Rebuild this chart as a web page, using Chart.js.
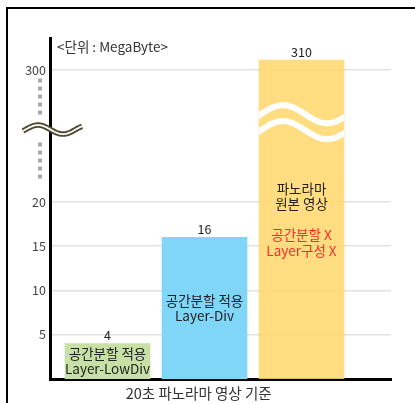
<!DOCTYPE html>
<html><head><meta charset="utf-8">
<script src="https://cdn.jsdelivr.net/npm/chart.js@4"></script>
<style>
html,body{margin:0;padding:0;background:#fff;}
#wrap{position:relative;width:415px;height:403px;overflow:hidden;background:#fff;}
#frame{position:absolute;left:6px;top:7px;width:600px;height:600px;border-top:2px solid #000;border-left:2px solid #000;}
canvas{position:absolute;left:0;top:0;}
</style></head><body>
<div id="wrap"><div id="frame"></div><canvas id="c" width="415" height="403"></canvas></div>
<script>
const categories = ['Layer-LowDiv', 'Layer-Div', '파노라마 원본 영상'];
const values = [4, 16, 310];
const barColors = ['#c6e0a5', '#80d6f6', 'rgba(255,215,106,0.85)'];
const tickValues = [5, 10, 15, 20, 300];
const unitLabel = '<단위 : MegaByte>';
const xTitle = '20초 파노라마 영상 기준';
const barNotes = [
  ['공간분할 적용', 'Layer-LowDiv'],
  ['공간분할 적용', 'Layer-Div'],
  ['파노라마', '원본 영상', '', '공간분할 X', 'Layer구성 X']
];
const noteColors = [
  ['#222', '#222'],
  ['#222', '#222'],
  ['#222', '#222', '', '#ff2a2a', '#ff2a2a']
];

// broken axis: 0..20 linear, then jump to 300+
const BREAK_LO = 20, BREAK_HI = 300, HI_AT = 34.9, HI_RATE = 0.11, Y_MAX = 38.5;
function toAxis(v) {
  if (v <= BREAK_LO) return v;
  if (v >= BREAK_HI) return HI_AT + (v - BREAK_HI) * HI_RATE;
  return BREAK_LO + (v - BREAK_LO) / (BREAK_HI - BREAK_LO) * (HI_AT - BREAK_LO);
}

const FONT = "'Noto Sans CJK KR','Noto Sans',sans-serif";

function wave(ctx, x0, x1, cy, amp, period, crestX) {
  ctx.beginPath();
  for (let x = x0; x <= x1; x += 1) {
    const y = cy - amp * Math.cos(2 * Math.PI * (x - crestX) / period);
    if (x === x0) ctx.moveTo(x, y); else ctx.lineTo(x, y);
  }
  ctx.stroke();
}

const decor = {
  id: 'decor',
  afterDatasetsDraw(chart) {
    const ctx = chart.ctx;
    const ys = chart.scales.y;
    const area = chart.chartArea;
    const meta = chart.getDatasetMeta(0);
    ctx.save();
    // white waves across the tall bar
    const big = meta.data[2];
    const bw = big.width;
    ctx.save();
    ctx.beginPath();
    ctx.rect(big.x - bw / 2, big.y, bw, big.base - big.y);
    ctx.clip();
    ctx.strokeStyle = '#ffffff';
    ctx.lineWidth = 6;
    const c1 = ys.getPixelForValue(29.9), c2 = ys.getPixelForValue(28.1);
    wave(ctx, big.x - bw / 2 - 3, big.x + bw / 2 + 3, c1, 9, 88, big.x - 18.5);
    wave(ctx, big.x - bw / 2 - 3, big.x + bw / 2 + 3, c2, 9, 88, big.x - 18.5);
    ctx.restore();

    // value labels and notes
    ctx.textAlign = 'center';
    ctx.textBaseline = 'middle';
    meta.data.forEach((bar, i) => {
      ctx.font = '12.5px ' + FONT;
      ctx.fillStyle = '#222';
      ctx.fillText(String(values[i]), bar.x, bar.y - 8);
      const lines = barNotes[i];
      const lh = 15.5;
      const mid = (bar.y + bar.base) / 2;
      ctx.font = '13.5px ' + FONT;
      lines.forEach((t, j) => {
        if (!t) return;
        ctx.fillStyle = noteColors[i][j];
        ctx.fillText(t, bar.x, mid + (j - (lines.length - 1) / 2) * lh);
      });
    });

    // axis break: dotted line + wave
    const dx = area.left - 10;
    ctx.fillStyle = '#a8a8a8';
    const yTop = ys.getPixelForValue(33.7), yBot = ys.getPixelForValue(22.8);
    const wc = ys.getPixelForValue(28.16);
    for (let y = yTop; y <= yBot; y += 8) {
      if (Math.abs(y - wc) < 11) continue;
      ctx.fillRect(dx - 2, y - 2, 4, 4);
    }
    ctx.lineCap = 'butt';
    ctx.strokeStyle = '#4b4a30';
    ctx.lineWidth = 5.5;
    wave(ctx, area.left - 27, area.left + 32, wc, 4.5, 50, area.left - 12);
    ctx.strokeStyle = '#ffffff';
    ctx.lineWidth = 1.8;
    wave(ctx, area.left - 27, area.left + 32, wc, 4.5, 50, area.left - 12);

    // unit label
    ctx.textAlign = 'left';
    ctx.fillStyle = '#333';
    ctx.font = '13.5px ' + FONT;
    ctx.fillText(unitLabel, area.left + 7, area.top + 9);
    ctx.restore();
  }
};

new Chart(document.getElementById('c').getContext('2d'), {
  type: 'bar',
  data: {
    datasets: [{
      data: categories.map((c, i) => ({ x: i, y: toAxis(values[i]) })),
      backgroundColor: barColors,
      borderWidth: 0,
      barThickness: 85
    }]
  },
  options: {
    responsive: false,
    animation: false,
    devicePixelRatio: 1,
    layout: { padding: { top: 38, right: 24, left: 0, bottom: 0 } },
    plugins: { legend: { display: false }, tooltip: { enabled: false } },
    scales: {
      x: {
        type: 'linear', min: -0.593, max: 2.923, offset: false,
        grid: { display: false, drawTicks: false, offset: false },
        border: { color: '#000', width: 3 },
        afterBuildTicks: s => { s.ticks = [{ value: 0.94 }]; },
        ticks: { callback: () => xTitle, color: '#333', font: { family: FONT, size: 14.5 }, padding: 6, maxRotation: 0, autoSkip: false },
        afterFit: s => { s.height = 24; }
      },
      y: {
        min: 0, max: Y_MAX,
        afterBuildTicks: s => { s.ticks = tickValues.map(v => ({ value: toAxis(v) })); },
        ticks: { callback: (v, i) => String(tickValues[i]), color: '#444', font: { family: FONT, size: 12.5 }, padding: 4 },
        grid: { color: '#e2e2e2', lineWidth: 1.5, drawTicks: false },
        border: { color: '#000', width: 3 },
        afterFit: s => { s.width = 50; }
      }
    }
  },
  plugins: [decor]
});
</script>
</body></html>
